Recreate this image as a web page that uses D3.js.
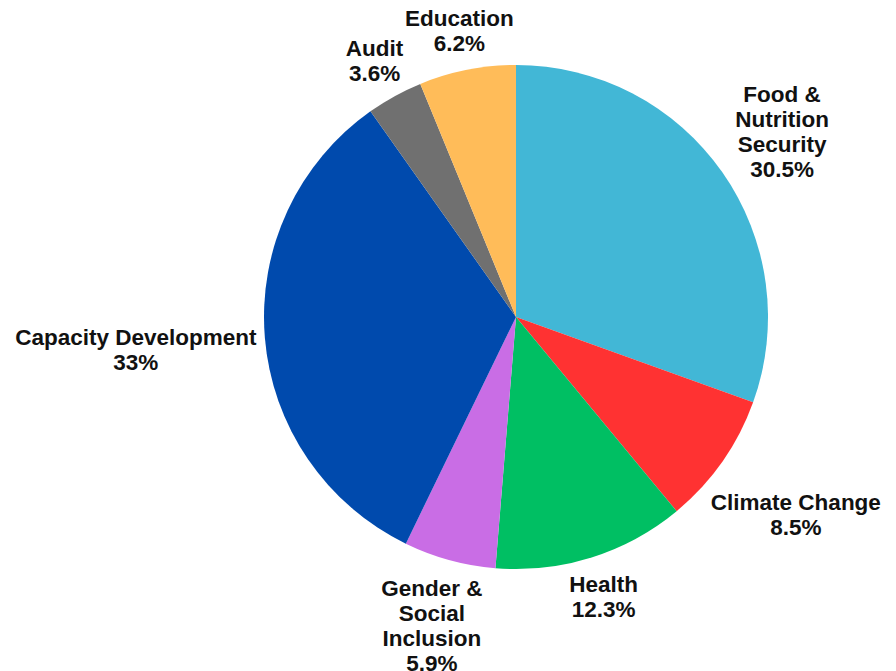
<!DOCTYPE html>
<html>
<head>
<meta charset="utf-8">
<script src="https://cdn.jsdelivr.net/npm/d3@7"></script>
<style>
    body { margin: 0; background: #fff; }
    text { font-family: "Liberation Sans", Arial, sans-serif; font-weight: bold; font-size: 22.5px; fill: #111; }
</style>
</head>
<body>
<div class="container"></div>
<script>
const width = 896;
const height = 671;

// slices, clockwise from 12 o'clock
const categories = ['Food & Nutrition Security', 'Climate Change', 'Health', 'Gender & Social Inclusion',
    'Capacity Development', 'Audit', 'Education'];
const values = [30.5, 8.5, 12.3, 5.9, 33, 3.6, 6.2];
const labels = [['Food &', 'Nutrition', 'Security'], ['Climate Change'], ['Health'],
    ['Gender &', 'Social', 'Inclusion'], ['Capacity Development'], ['Audit'], ['Education']];
const colors = ['#42b7d6', '#ff3232', '#00bf63', '#c96de5', '#004aad', '#707070', '#ffbc59'];

const cx = 516;
const cy = 317;
const radius = 252;
const labelRadius = 259;
const lineHeight = 25;

const data = categories.map((c, i) => ({ name: c, value: values[i], lines: labels[i].concat([values[i] + '%']) }));

const svg = d3.select('.container')
    .append('svg')
    .attr('width', width)
    .attr('height', height);

const pie = d3.pie().sort(null).value(d => d.value);
const arc = d3.arc().innerRadius(0).outerRadius(radius);
const arcs = pie(data);

const g = svg.append('g').attr('transform', `translate(${cx},${cy})`);

g.selectAll('.slice')
    .data(arcs)
    .enter()
    .append('path')
    .attr('class', 'slice')
    .attr('d', arc)
    .attr('fill', (d, i) => colors[i]);

const labelG = g.selectAll('.label')
    .data(arcs)
    .enter()
    .append('text')
    .attr('class', 'label')
    .attr('text-anchor', 'middle');

labelG.each(function(d) {
    const a = (d.startAngle + d.endAngle) / 2;
    const s = Math.sin(a);
    const c = Math.cos(a);
    const t = d3.select(this);
    d.data.lines.forEach((line, i) => {
        t.append('tspan').attr('x', 0).attr('y', i * lineHeight).text(line);
    });
    // box centre sits on the mid-angle ray, pushed out until the box just clears the label circle
    const w = this.getBBox().width;
    const h = (d.data.lines.length - 1) * lineHeight + 22;
    const dist = labelRadius + w / 2 * Math.abs(s) + h / 2 * Math.abs(c);
    const bx = dist * s;
    const by = -dist * c;
    const top = by - h / 2;
    t.selectAll('tspan')
        .attr('x', bx)
        .attr('y', (l, i) => top + 20 + i * lineHeight);
});
</script>
</body>
</html>
